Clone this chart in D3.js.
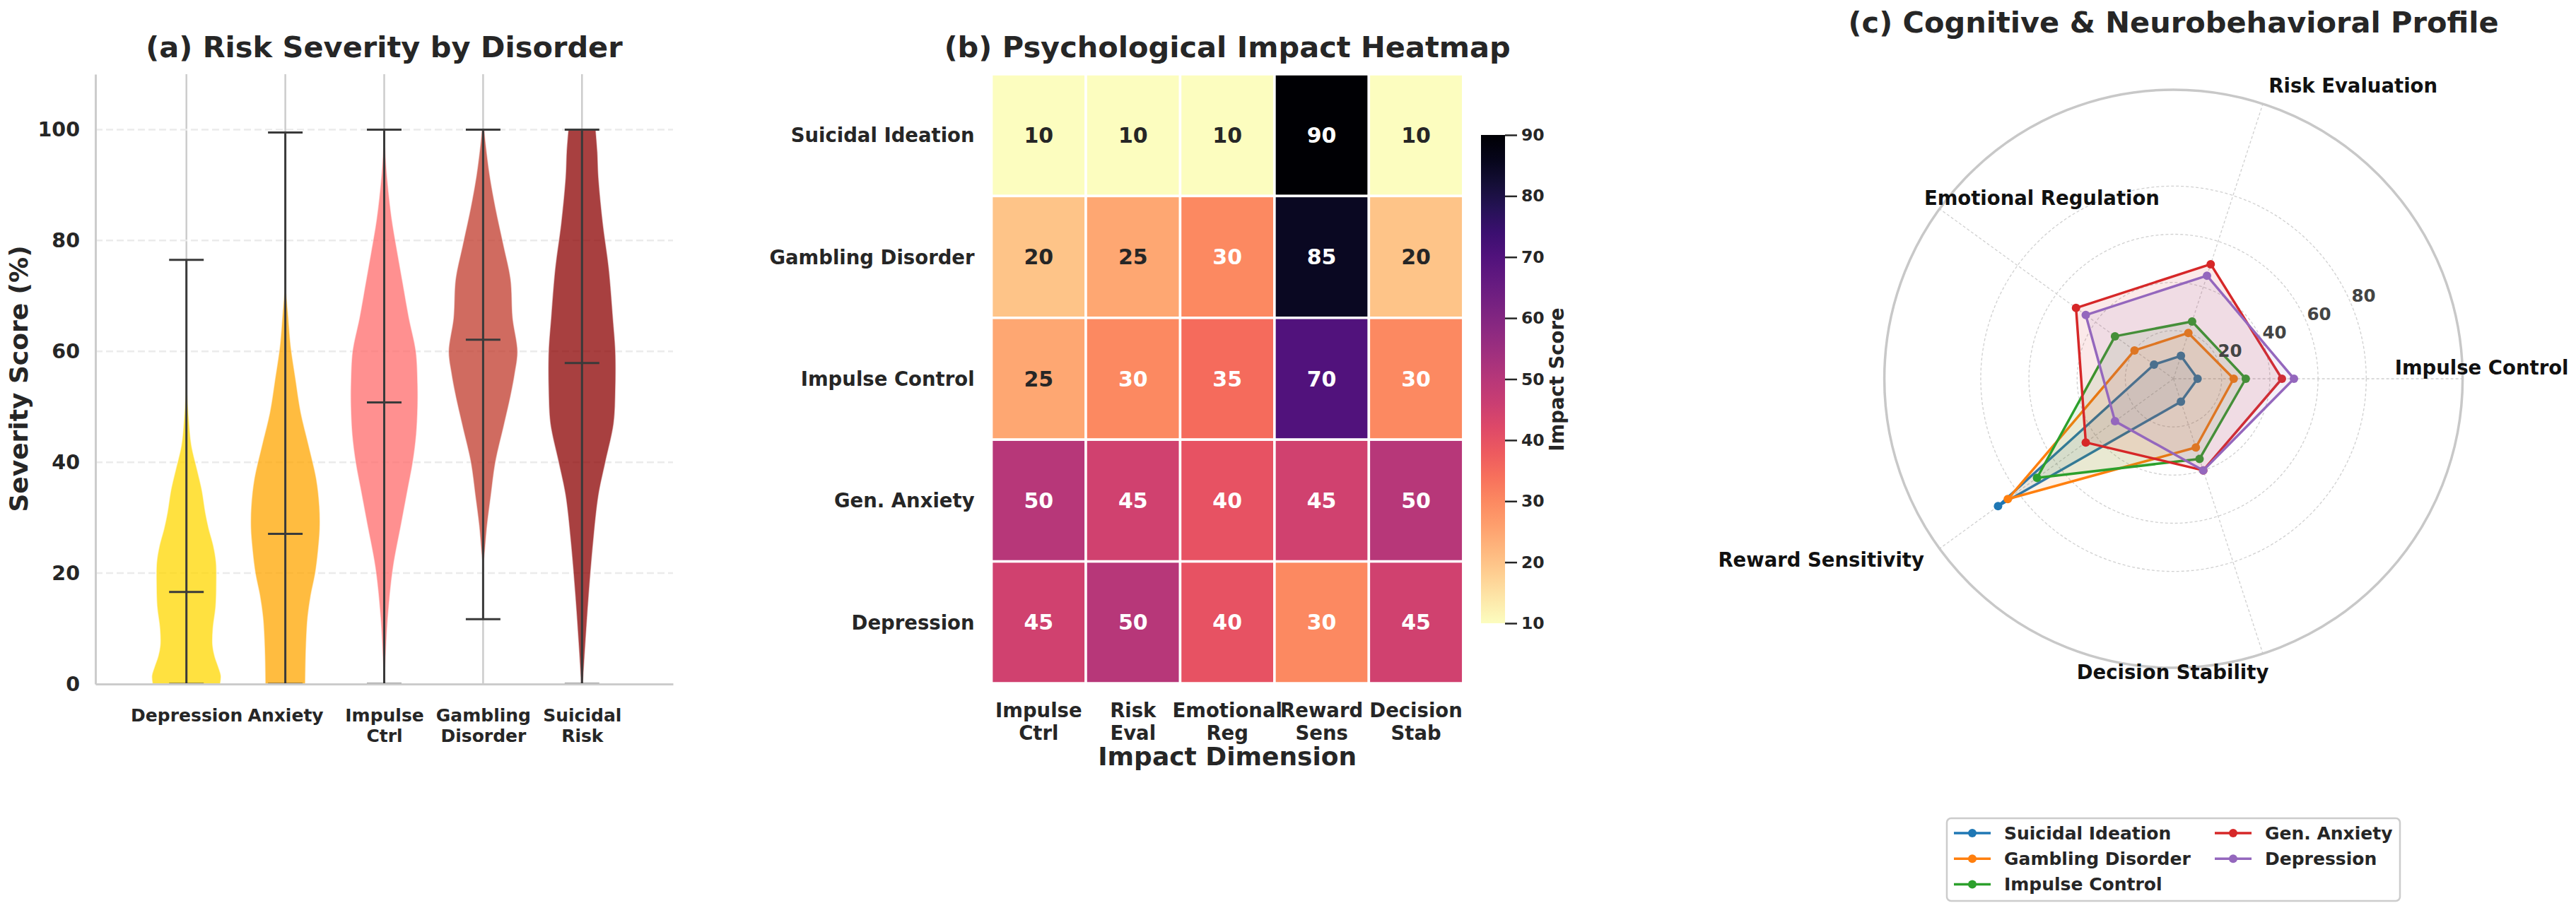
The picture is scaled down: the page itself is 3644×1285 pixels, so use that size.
<!DOCTYPE html>
<html>
<head>
<meta charset="utf-8">
<script src="https://cdn.jsdelivr.net/npm/d3@7"></script>
<style>
  body { margin: 0; background: #fff; }
  svg { display: block; }
  text { font-family: "DejaVu Sans", sans-serif; font-weight: bold; }
</style>
</head>
<body>
<div id="chart"></div>
<script>
// ---- panel (a) data: violins
const disorders = ["Depression", "Anxiety", "Impulse\nCtrl", "Gambling\nDisorder", "Suicidal\nRisk"]
const violinColors = ["#FFD700", "#FFA500", "#FF6B6B", "#C0392B", "#8B0000"]
const violinMeans = [16.6, 27.1, 50.8, 62.1, 57.9]
const violinMins = [0, 0, 0, 11.7, 0]
const violinMaxs = [76.5, 99.5, 100, 100, 100]
// [score, relative density] pairs
const violinProfiles = [
    [[0, 0.98], [1.5, 1.0], [3, 0.93], [5, 0.82], [7, 0.76], [10, 0.77], [14, 0.85], [18, 0.87], [22, 0.86],
     [25, 0.78], [28, 0.65], [31, 0.55], [35, 0.45], [39, 0.3], [43, 0.15], [48, 0.07], [52, 0.03], [56, 0]],
    [[0, 0.58], [4, 0.59], [8, 0.61], [12, 0.65], [16, 0.74], [20, 0.87], [24, 0.95], [28, 1.0], [32, 0.99],
     [37, 0.9], [43, 0.68], [49, 0.45], [55, 0.3], [61, 0.16], [67, 0.08], [72, 0.01]],
    [[0, 0.01], [4, 0.04], [12, 0.11], [21, 0.26], [29, 0.5], [35, 0.68], [40, 0.83], [45, 0.93], [50, 0.97],
     [54, 0.97], [60, 0.92], [66, 0.72], [72, 0.55], [78, 0.38], [84, 0.22], [92, 0.08], [97, 0.03], [100, 0.01]],
    [[21, 0], [23, 0.04], [28.6, 0.12], [34, 0.23], [40, 0.36], [46.5, 0.6], [52, 0.8], [56, 0.92], [60, 1.0],
     [66, 0.86], [73, 0.8], [79, 0.6], [86, 0.36], [92, 0.19], [98, 0.07], [100, 0.04]],
    [[0, 0.03], [7, 0.1], [16, 0.2], [25, 0.32], [34, 0.48], [40, 0.68], [47, 0.92], [53, 0.97], [60, 0.97],
     [66, 0.9], [75, 0.78], [83, 0.61], [91.5, 0.48], [96, 0.45], [100, 0.4]]
]
const yTicksA = [0, 20, 40, 60, 80, 100]

// ---- panel (b) data
const heatRows = ["Suicidal Ideation", "Gambling Disorder", "Impulse Control", "Gen. Anxiety", "Depression"]
const heatCols = ["Impulse\nCtrl", "Risk\nEval", "Emotional\nReg", "Reward\nSens", "Decision\nStab"]
const heatValues = [
    [10, 10, 10, 90, 10],
    [20, 25, 30, 85, 20],
    [25, 30, 35, 70, 30],
    [50, 45, 40, 45, 50],
    [45, 50, 40, 30, 45]
]
const cbarTicks = [10, 20, 30, 40, 50, 60, 70, 80, 90]

// ---- panel (c) data
const radarAxes = ["Impulse Control", "Risk Evaluation", "Emotional Regulation", "Reward Sensitivity", "Decision Stability"]
const radarSeries = ["Suicidal Ideation", "Gambling Disorder", "Impulse Control", "Gen. Anxiety", "Depression"]
const radarColors = ["#1f77b4", "#ff7f0e", "#2ca02c", "#d62728", "#9467bd"]
const radarValues = [
    [10, 10, 10, 90, 10],
    [25, 20, 20, 85, 30],
    [30, 25, 30, 70, 35],
    [45, 50, 50, 45, 40],
    [50, 45, 45, 30, 40]
]
const radarTicks = [20, 40, 60, 80]

const ink = "#262626"
const svg = d3.select("#chart").append("svg").attr("width", 3644).attr("height", 1285)

// multi-line label helper
function lines(sel, lh) {
    sel.each(function (d) {
        const t = d3.select(this), txt = t.text()
        t.text(null)
        txt.split("\n").forEach((s, k) => t.append("tspan").attr("x", t.attr("x") || 0).attr("dy", k ? lh : 0).text(s))
    })
}

// ================= (a) violin plot =================
;(function () {
    const x = d3.scaleLinear().domain([-0.92, 4.92]).range([135, 952])
    const y = d3.scaleLinear().domain([0, 110]).range([968, 105])
    const g = svg.append("g")

    g.append("g").selectAll("line").data(disorders).enter().append("line")
        .attr("x1", (d, i) => x(i)).attr("x2", (d, i) => x(i))
        .attr("y1", y(0)).attr("y2", y(110))
        .attr("stroke", "#cccccc").attr("stroke-width", 2.5)

    g.append("g").selectAll("line").data(yTicksA.slice(1)).enter().append("line")
        .attr("x1", x(-0.92)).attr("x2", x(4.92))
        .attr("y1", d => y(d)).attr("y2", d => y(d))
        .attr("stroke", "#ebebeb").attr("stroke-width", 2.5).attr("stroke-dasharray", "10,5")

    violinProfiles.forEach((prof, i) => {
        const area = d3.area().curve(d3.curveCatmullRom)
            .y(p => y(p[0]))
            .x0(p => x(i - 0.35 * p[1]))
            .x1(p => x(i + 0.35 * p[1]))
        g.append("path").datum(prof).attr("d", area)
            .attr("fill", violinColors[i]).attr("fill-opacity", 0.75)
            .attr("stroke", "#fff").attr("stroke-opacity", 0.6).attr("stroke-width", 1.5)
    })

    const stats = g.append("g").attr("stroke", "#3a3a3a").attr("stroke-width", 3)
    disorders.forEach((d, i) => {
        stats.append("line").attr("x1", x(i)).attr("x2", x(i)).attr("y1", y(violinMins[i])).attr("y2", y(violinMaxs[i]))
        ;[violinMins[i], violinMaxs[i], violinMeans[i]].forEach(v => {
            stats.append("line").attr("x1", x(i - 0.175)).attr("x2", x(i + 0.175)).attr("y1", y(v)).attr("y2", y(v))
        })
    })

    const ya = g.append("g").attr("transform", `translate(${x(-0.92)},0)`)
        .call(d3.axisLeft(y).tickValues(yTicksA).tickSize(0).tickPadding(22).tickSizeOuter(0))
    ya.select(".domain").attr("stroke", "#cccccc").attr("stroke-width", 3)
    ya.selectAll("text").attr("font-size", 28.5).attr("fill", ink).attr("font-family", null)

    const xa = g.append("g").attr("transform", `translate(0,${y(0)})`)
        .call(d3.axisBottom(x).tickValues(d3.range(5)).tickFormat(i => disorders[i]).tickSize(0).tickSizeOuter(0))
    xa.select(".domain").attr("stroke", "#cccccc").attr("stroke-width", 3)
    xa.selectAll("text").attr("font-size", 25).attr("fill", ink).attr("font-family", null)
        .attr("y", 53).attr("dy", null).call(lines, 29)

    g.append("text").attr("transform", "translate(26,536) rotate(-90)")
        .attr("text-anchor", "middle").attr("dominant-baseline", "central")
        .attr("font-size", 36).attr("fill", ink).text("Severity Score (%)")

    g.append("text").attr("x", (x(-0.92) + x(4.92)) / 2).attr("y", 81)
        .attr("text-anchor", "middle").attr("font-size", 41.5).attr("fill", ink)
        .text("(a) Risk Severity by Disorder")
})()

// ================= (b) heatmap =================
;(function () {
    const x = d3.scaleBand().domain(heatCols).range([1402.6, 2069.8])
    const y = d3.scaleBand().domain(heatRows).range([105, 967])
    const color = d3.scaleSequential(t => d3.interpolateMagma(1 - t)).domain([10, 90])
    const g = svg.append("g")

    const cells = heatValues.flatMap((row, r) => row.map((v, c) => ({ r: heatRows[r], c: heatCols[c], v })))
    g.selectAll("rect.cell").data(cells).enter().append("rect")
        .attr("x", d => x(d.c)).attr("y", d => y(d.r))
        .attr("width", x.bandwidth()).attr("height", y.bandwidth())
        .attr("fill", d => color(d.v)).attr("stroke", "#fff").attr("stroke-width", 3.5)

    g.selectAll("text.ann").data(cells).enter().append("text")
        .attr("x", d => x(d.c) + x.bandwidth() / 2).attr("y", d => y(d.r) + y.bandwidth() / 2)
        .attr("text-anchor", "middle").attr("dominant-baseline", "central")
        .attr("font-size", 30).attr("fill", d => d.v <= 25 ? ink : "#fff").text(d => d.v)

    g.selectAll("text.row").data(heatRows).enter().append("text")
        .attr("x", x.range()[0] - 24).attr("y", d => y(d) + y.bandwidth() / 2)
        .attr("text-anchor", "end").attr("dominant-baseline", "central")
        .attr("font-size", 27.5).attr("fill", ink).text(d => d)

    g.selectAll("text.col").data(heatCols).enter().append("text")
        .attr("x", d => x(d) + x.bandwidth() / 2).attr("y", 1015)
        .attr("text-anchor", "middle").attr("font-size", 27.5).attr("fill", ink)
        .text(d => d).call(lines, 32)

    g.append("text").attr("x", (x.range()[0] + x.range()[1]) / 2).attr("y", 1083)
        .attr("text-anchor", "middle").attr("font-size", 36).attr("fill", ink).text("Impact Dimension")

    g.append("text").attr("x", (x.range()[0] + x.range()[1]) / 2).attr("y", 81)
        .attr("text-anchor", "middle").attr("font-size", 41.5).attr("fill", ink)
        .text("(b) Psychological Impact Heatmap")

    // colorbar
    const cy = d3.scaleLinear().domain([10, 90]).range([882, 191])
    const grad = svg.append("defs").append("linearGradient").attr("id", "magma")
        .attr("x1", 0).attr("y1", 1).attr("x2", 0).attr("y2", 0)
    d3.range(0, 1.0001, 0.05).forEach(t => {
        grad.append("stop").attr("offset", t).attr("stop-color", color(10 + 80 * t))
    })
    g.append("rect").attr("x", 2095).attr("y", cy(90)).attr("width", 34).attr("height", cy(10) - cy(90))
        .attr("fill", "url(#magma)")
    const ca = g.append("g").attr("transform", "translate(2129,0)")
        .call(d3.axisRight(cy).tickValues(cbarTicks).tickSize(17).tickPadding(6))
    ca.select(".domain").remove()
    ca.selectAll("line").attr("stroke", ink).attr("stroke-width", 2.5)
    ca.selectAll("text").attr("font-size", 23.5).attr("fill", ink).attr("font-family", null)

    g.append("text").attr("transform", "translate(2202,537) rotate(-90)")
        .attr("text-anchor", "middle").attr("dominant-baseline", "central")
        .attr("font-size", 27.5).attr("fill", ink).text("Impact Score")
})()

// ================= (c) radar =================
;(function () {
    const cx = 3074.6, cy = 536
    const r = d3.scaleLinear().domain([0, 120]).range([0, 409])
    const theta = i => i * 2 * Math.PI / radarAxes.length
    const g = svg.append("g").attr("transform", `translate(${cx},${cy})`)

    g.selectAll("circle.grid").data(radarTicks).enter().append("circle")
        .attr("r", d => r(d)).attr("fill", "none")
        .attr("stroke", "#d0d0d0").attr("stroke-width", 1.3).attr("stroke-dasharray", "4,3")
    g.selectAll("line.spoke").data(radarAxes).enter().append("line")
        .attr("x1", 0).attr("y1", 0)
        .attr("x2", (d, i) => r(120) * Math.cos(theta(i))).attr("y2", (d, i) => -r(120) * Math.sin(theta(i)))
        .attr("stroke", "#d0d0d0").attr("stroke-width", 1.3).attr("stroke-dasharray", "4,3")
    g.append("circle").attr("r", r(120)).attr("fill", "none").attr("stroke", "#c8c8c8").attr("stroke-width", 3.5)

    const radial = d3.lineRadial().curve(d3.curveLinearClosed)
        .angle((d, i) => Math.PI / 2 - theta(i)).radius(d => r(d))

    radarValues.forEach((vals, s) => {
        g.append("path").attr("d", radial(vals))
            .attr("fill", radarColors[s]).attr("fill-opacity", 0.1)
            .attr("stroke", radarColors[s]).attr("stroke-width", 3.5).attr("stroke-linejoin", "round")
        g.selectAll(null).data(vals).enter().append("circle")
            .attr("cx", (d, i) => r(d) * Math.cos(theta(i))).attr("cy", (d, i) => -r(d) * Math.sin(theta(i)))
            .attr("r", 6).attr("fill", radarColors[s])
    })

    const la = 22.5 * Math.PI / 180
    g.selectAll("text.rt").data(radarTicks).enter().append("text")
        .attr("x", d => r(d) * Math.cos(la)).attr("y", d => -r(d) * Math.sin(la) - 5)
        .attr("font-size", 24.5).attr("fill", "#444").text(d => d)

    const rl = r(120) + 27
    g.selectAll("text.ax").data(radarAxes).enter().append("text")
        .attr("x", (d, i) => rl * Math.cos(theta(i)))
        .attr("y", (d, i) => -rl * Math.sin(theta(i)) + (i === 0 ? -16 : 0))
        .attr("text-anchor", (d, i) => i === 0 ? "middle" : theta(i) < Math.PI ? "start" : "end")
        .attr("dominant-baseline", "central")
        .attr("font-size", 27.5).attr("fill", "#111").text(d => d)

    svg.append("text").attr("x", cx).attr("y", 46).attr("text-anchor", "middle")
        .attr("font-size", 41.5).attr("fill", ink).text("(c) Cognitive & Neurobehavioral Profile")

    // legend, two columns filled top to bottom
    const lg = svg.append("g")
    lg.append("rect").attr("x", 2754).attr("y", 1158).attr("width", 641).attr("height", 117).attr("rx", 6)
        .attr("fill", "#fff").attr("stroke", "#cccccc").attr("stroke-width", 2.5)
    const item = lg.selectAll("g.item").data(radarSeries).enter().append("g")
        .attr("transform", (d, i) => `translate(${i < 3 ? 2764 : 3133},${1179 + (i % 3) * 36.3})`)
    item.append("line").attr("x1", 0).attr("x2", 52).attr("stroke", (d, i) => radarColors[i]).attr("stroke-width", 3.5)
    item.append("circle").attr("cx", 26).attr("r", 6).attr("fill", (d, i) => radarColors[i])
    item.append("text").attr("x", 71).attr("dominant-baseline", "central")
        .attr("font-size", 25).attr("fill", ink).text(d => d)
})()
</script>
</body>
</html>
